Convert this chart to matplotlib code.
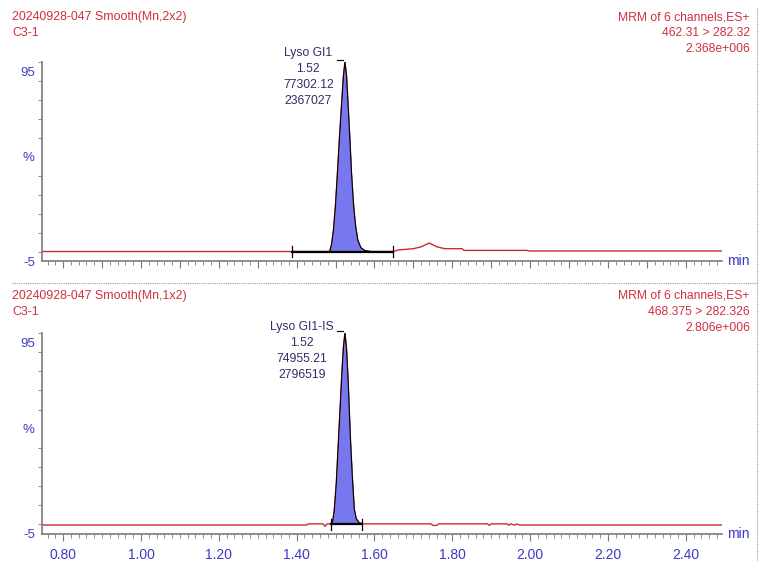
import matplotlib
matplotlib.use("Agg")
import matplotlib.pyplot as plt
from matplotlib.ticker import MultipleLocator

plt.rcParams['font.family'] = ['Liberation Sans', 'DejaVu Sans']

# top trace: Lyso GI1, 462.31 > 282.32
top_t = [0.745, 1.388, 1.48, 1.485, 1.490, 1.495, 1.500, 1.505, 1.510, 1.515, 1.520,
         1.524, 1.528, 1.532, 1.537, 1.541, 1.546, 1.551, 1.557, 1.565, 1.575, 1.59,
         1.648, 1.66, 1.70, 1.72, 1.741, 1.76, 1.78, 1.825, 1.83, 1.99, 2.00, 2.492]
top_y = [0.0, 0.0, 0.0, 0.0, 4, 12, 25, 42, 60, 76, 92,
         100, 93, 78, 58, 41, 25, 14, 6, 2, 0.5, 0.0,
         0.0, 0.8, 1.5, 2.5, 4.5, 2.5, 1.5, 1.5, 0.6, 0.6, 0.3, 0.3]
top_int = (1.388, 1.648)

# bottom trace: Lyso GI1-IS, 468.375 > 282.326
bot_t = [0.745, 1.427, 1.43, 1.468, 1.473, 1.478, 1.488, 1.490, 1.493, 1.497, 1.502,
         1.507, 1.512, 1.516, 1.520, 1.524, 1.528, 1.532, 1.5385, 1.543, 1.548, 1.553,
         1.560, 1.568, 1.745, 1.75, 1.76, 1.765, 1.89, 1.895, 1.90, 1.94, 1.945,
         1.95, 1.96, 1.965, 1.972, 2.492]
bot_y = [-0.3, -0.3, 0.3, 0.3, -1.0, 0.3, 0.3, 0.3, 2, 8, 22,
         42, 62, 78, 92, 100, 92, 76, 43, 25, 8, 3,
         1, 0.3, 0.3, -0.5, -0.5, 0.3, 0.3, -0.5, 0.3, 0.3, -0.4,
         0.3, -0.4, 0.3, -0.3, -0.3]
bot_int = (1.488, 1.568)

headers = [
    ("20240928-047 Smooth(Mn,2x2)", "C3-1",
     ["MRM of 6 channels,ES+", "462.31 > 282.32", "2.368e+006"]),
    ("20240928-047 Smooth(Mn,1x2)", "C3-1",
     ["MRM of 6 channels,ES+", "468.375 > 282.326", "2.806e+006"]),
]
peak_labels = [
    ["Lyso GI1", "1.52", "77302.12", "2367027"],
    ["Lyso GI1-IS", "1.52", "74955.21", "2796519"],
]
label_pos = [(1.430, 92), (1.414, 90.5)]
xtick_vals = [0.80, 1.00, 1.20, 1.40, 1.60, 1.80, 2.00, 2.20, 2.40]

RED = "#cc2b2b"
HEAD = "#cf3040"
BLUE = "#3c3cc4"
NAVY = "#2e2e66"
FILL = "#7878ee"
GREY = "#7a7a7a"

W, H = 768, 568
fig = plt.figure(figsize=(W / 100, H / 100), dpi=100)

ax_top = fig.add_axes([41.7 / W, 1 - 261 / H, 680 / W, 199 / H])
ax_bot = fig.add_axes([41.7 / W, 1 - 534 / H, 680 / W, 201 / H])

panels = [(ax_top, top_t, top_y, top_int), (ax_bot, bot_t, bot_y, bot_int)]
head_y = [17, 296]

for k, (ax, t, y, (i0, i1)) in enumerate(panels):
    ax.plot(t, y, color=RED, lw=1.0, zorder=2)
    # integrated peak
    pt = [a for a in t if i0 <= a <= i1]
    py = [b for a, b in zip(t, y) if i0 <= a <= i1]
    ax.fill_between(pt, 0, py, color=FILL, lw=0, zorder=3)
    ax.plot(pt, [max(v, 0) for v in py], color="black", lw=0.8, zorder=4)
    ax.plot([i0, i1], [0, 0], color="black", lw=1.6, zorder=4)
    for m in (i0, i1):
        ax.plot([m, m], [-3, 3], color="black", lw=0.9, zorder=5)

    ax.set_xlim(0.745, 2.492)
    ax.set_ylim(-5, 100)
    for s in ("top", "right"):
        ax.spines[s].set_visible(False)
    for s in ("left", "bottom"):
        ax.spines[s].set_color(GREY)
        ax.spines[s].set_linewidth(1.2)

    if k == 1:
        ax.set_xticks(xtick_vals)
        ax.set_xticklabels(["%.2f" % v for v in xtick_vals])
        ax.xaxis.set_minor_locator(MultipleLocator(0.02))
    else:
        ax.xaxis.set_major_locator(MultipleLocator(0.1))
        ax.xaxis.set_minor_locator(MultipleLocator(0.02))
        ax.set_xticklabels([])
    ax.tick_params(axis="x", which="major", length=5, color=GREY, labelcolor=BLUE,
                   labelsize=10, pad=5)
    ax.tick_params(axis="x", which="minor", length=3, color=GREY)
    ax.set_yticks([-5, 50, 95])
    ax.set_yticklabels(["-5", "%", "95"])
    ax.yaxis.set_minor_locator(MultipleLocator(10))
    ax.tick_params(axis="y", which="major", length=0, labelcolor=BLUE, labelsize=9.5,
                   pad=5)
    ax.tick_params(axis="y", which="minor", length=3, color=GREY)
    ax.text(1.008, 0, "min", transform=ax.transAxes, color=BLUE, fontsize=10,
            ha="left", va="center")

    # peak label and leader
    apex = t[y.index(max(y))]
    lx, ly = label_pos[k]
    ax.text(lx, ly, "\n".join(peak_labels[k]), color=NAVY, fontsize=8.7,
            ha="center", va="center", linespacing=1.44)
    ax.plot([apex - 0.02, apex - 0.004], [101, 101], color="black", lw=0.8,
            clip_on=False)

    # headers
    left1, left2, right = headers[k]
    hy = head_y[k]
    fig.text(12 / W, 1 - hy / H, left1, color=HEAD, fontsize=8.9, va="center")
    fig.text(12 / W, 1 - (hy + 16) / H, left2, color=HEAD, fontsize=8.9, va="center")
    for j, s in enumerate(right):
        fig.text(750 / W, 1 - (hy + 16 * j) / H, s, color=HEAD, fontsize=8.7,
                 ha="right", va="center")

# panel separators
fig.add_artist(plt.Line2D([12 / W, 757 / W], [1 - 283 / H, 1 - 283 / H],
                          color="#999999", lw=0.8, ls=(0, (1, 1))))
fig.add_artist(plt.Line2D([757 / W, 757 / W], [1 - 8 / H, 1 - 560 / H],
                          color="#999999", lw=0.8, ls=(0, (1, 1))))

fig.savefig("out.png", dpi=100)
